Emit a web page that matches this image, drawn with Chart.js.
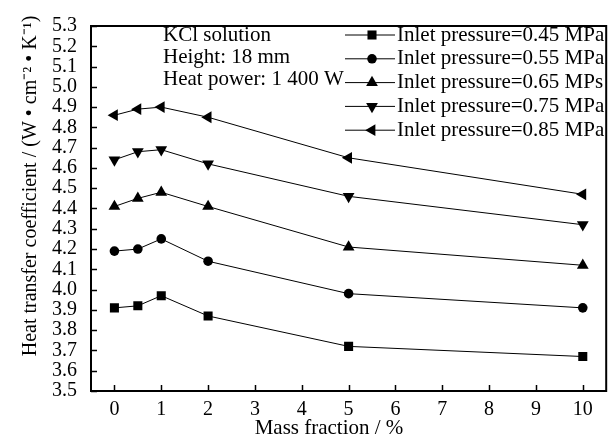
<!DOCTYPE html>
<html>
<head>
<meta charset="utf-8">
<script src="https://cdn.jsdelivr.net/npm/chart.js@4/dist/chart.umd.min.js"></script>
<style>
  html, body { margin: 0; padding: 0; background: #fff; }
  #wrap { width: 613px; height: 442px; }
</style>
</head>
<body>
<div id="wrap"><canvas id="chart"></canvas></div>
<script>
// mass fraction (%) on x, heat transfer coefficient on y
const massFraction = [0, 0.5, 1, 2, 5, 10];
const p045 = [3.91, 3.92, 3.97, 3.87, 3.72, 3.67];
const p055 = [4.19, 4.20, 4.25, 4.14, 3.98, 3.91];
const p065 = [4.41, 4.45, 4.48, 4.41, 4.21, 4.12];
const p075 = [4.64, 4.68, 4.69, 4.62, 4.46, 4.32];
const p085 = [4.86, 4.89, 4.90, 4.85, 4.65, 4.47];
const seriesLabels = [
    "Inlet pressure=0.45 MPa",
    "Inlet pressure=0.55 MPa",
    "Inlet pressure=0.65 MPs",
    "Inlet pressure=0.75 MPa",
    "Inlet pressure=0.85 MPa",
];
const xTicks = [0, 1, 2, 3, 4, 5, 6, 7, 8, 9, 10];
const yTicks = [3.5, 3.6, 3.7, 3.8, 3.9, 4.0, 4.1, 4.2, 4.3, 4.4, 4.5, 4.6, 4.7, 4.8, 4.9, 5.0, 5.1, 5.2, 5.3];
const noteLines = ["KCl solution", "Height: 18 mm", "Heat power: 1 400 W"];

const serif = "'Liberation Serif', 'Times New Roman', serif";
const markers = [
    { style: "rect", radius: 6.4, rotation: 0 },
    { style: "circle", radius: 4.8, rotation: 0 },
    { style: "triangle", radius: 6.8, rotation: 0 },
    { style: "triangle", radius: 6.8, rotation: 180 },
    { style: "triangle", radius: 6.8, rotation: 270 },
];

const allSeries = [p045, p055, p065, p075, p085];
const datasets = allSeries.map((vals, i) => ({
    label: seriesLabels[i],
    data: vals.map((v, j) => ({ x: massFraction[j], y: v })),
    borderColor: "#000",
    borderWidth: 1,
    backgroundColor: "#000",
    pointBackgroundColor: "#000",
    pointBorderColor: "#000",
    pointBorderWidth: 0,
    pointStyle: markers[i].style,
    pointRadius: markers[i].radius,
    pointRotation: markers[i].rotation,
    tension: 0,
}));

// draw a marker like the dataset points (used by the legend)
function drawMarker(ctx, m, x, y) {
    Chart.helpers.drawPoint(ctx, {
        pointStyle: m.style,
        rotation: m.rotation,
        radius: m.radius,
        borderWidth: 0,
    }, x, y);
}

const framePlugin = {
    id: "frame",
    afterDraw(chart) {
        const ctx = chart.ctx;
        const a = chart.chartArea;
        const xs = chart.scales.x;
        const ys = chart.scales.y;
        ctx.save();

        // frame
        ctx.strokeStyle = "#000";
        ctx.lineWidth = 2;
        ctx.strokeRect(a.left, a.top, a.right - a.left, a.bottom - a.top);

        // inward ticks
        ctx.lineWidth = 1.5;
        ctx.beginPath();
        xTicks.forEach(v => {
            const px = Math.round(xs.getPixelForValue(v)) + 0.5;
            ctx.moveTo(px, a.bottom);
            ctx.lineTo(px, a.bottom - 6);
        });
        yTicks.forEach(v => {
            const py = Math.round(ys.getPixelForValue(v)) + 0.5;
            ctx.moveTo(a.left, py);
            ctx.lineTo(a.left + 6, py);
        });
        ctx.stroke();

        // notes
        ctx.fillStyle = "#000";
        ctx.font = "21px " + serif;
        ctx.textBaseline = "middle";
        ctx.textAlign = "left";
        noteLines.forEach((t, i) => ctx.fillText(t, 163, 35 + i * 22));

        // legend
        seriesLabels.forEach((t, i) => {
            const y = 35 + i * 23.8;
            ctx.strokeStyle = "#000";
            ctx.lineWidth = 1;
            ctx.beginPath();
            ctx.moveTo(345, y);
            ctx.lineTo(395, y);
            ctx.stroke();
            ctx.fillStyle = "#000";
            drawMarker(ctx, markers[i], 372, y);
            ctx.fillStyle = "#000";
            ctx.fillText(t, 397, y);
        });

        // axis titles
        ctx.textAlign = "center";
        ctx.fillText("Mass fraction / %", 329, 428);
        ctx.font = "20px " + serif;
        ctx.translate(31, 186);
        ctx.rotate(-Math.PI / 2);
        ctx.fillText("Heat transfer coefficient / (W \u2022 cm\u207B\u00B2 \u2022 K\u207B\u00B9)", 0, 0);
        ctx.restore();
    },
};

new Chart(document.getElementById("chart"), {
    type: "line",
    data: { datasets },
    plugins: [framePlugin],
    options: {
        responsive: true,
        maintainAspectRatio: false,
        animation: false,
        layout: { padding: { top: 15, right: 4, left: 0, bottom: 0 } },
        plugins: { legend: { display: false }, tooltip: { enabled: false } },
        scales: {
            x: {
                type: "linear",
                min: -0.5,
                max: 10.5,
                afterBuildTicks: s => { s.ticks = xTicks.map(v => ({ value: v })); },
                afterFit: s => { s.height = 51; },
                grid: { display: false, drawTicks: false },
                border: { display: false },
                ticks: {
                    autoSkip: false,
                    maxRotation: 0,
                    padding: 7,
                    color: "#000",
                    font: { family: serif, size: 20 },
                },
            },
            y: {
                type: "linear",
                min: 3.5,
                max: 5.3,
                afterBuildTicks: s => { s.ticks = yTicks.map(v => ({ value: v })); },
                afterFit: s => { s.width = 91; },
                grid: { display: false, drawTicks: false },
                border: { display: false },
                ticks: {
                    autoSkip: false,
                    padding: 14,
                    color: "#000",
                    font: { family: serif, size: 20 },
                    callback: v => Number(v).toFixed(1),
                },
            },
        },
    },
});
</script>
</body>
</html>
